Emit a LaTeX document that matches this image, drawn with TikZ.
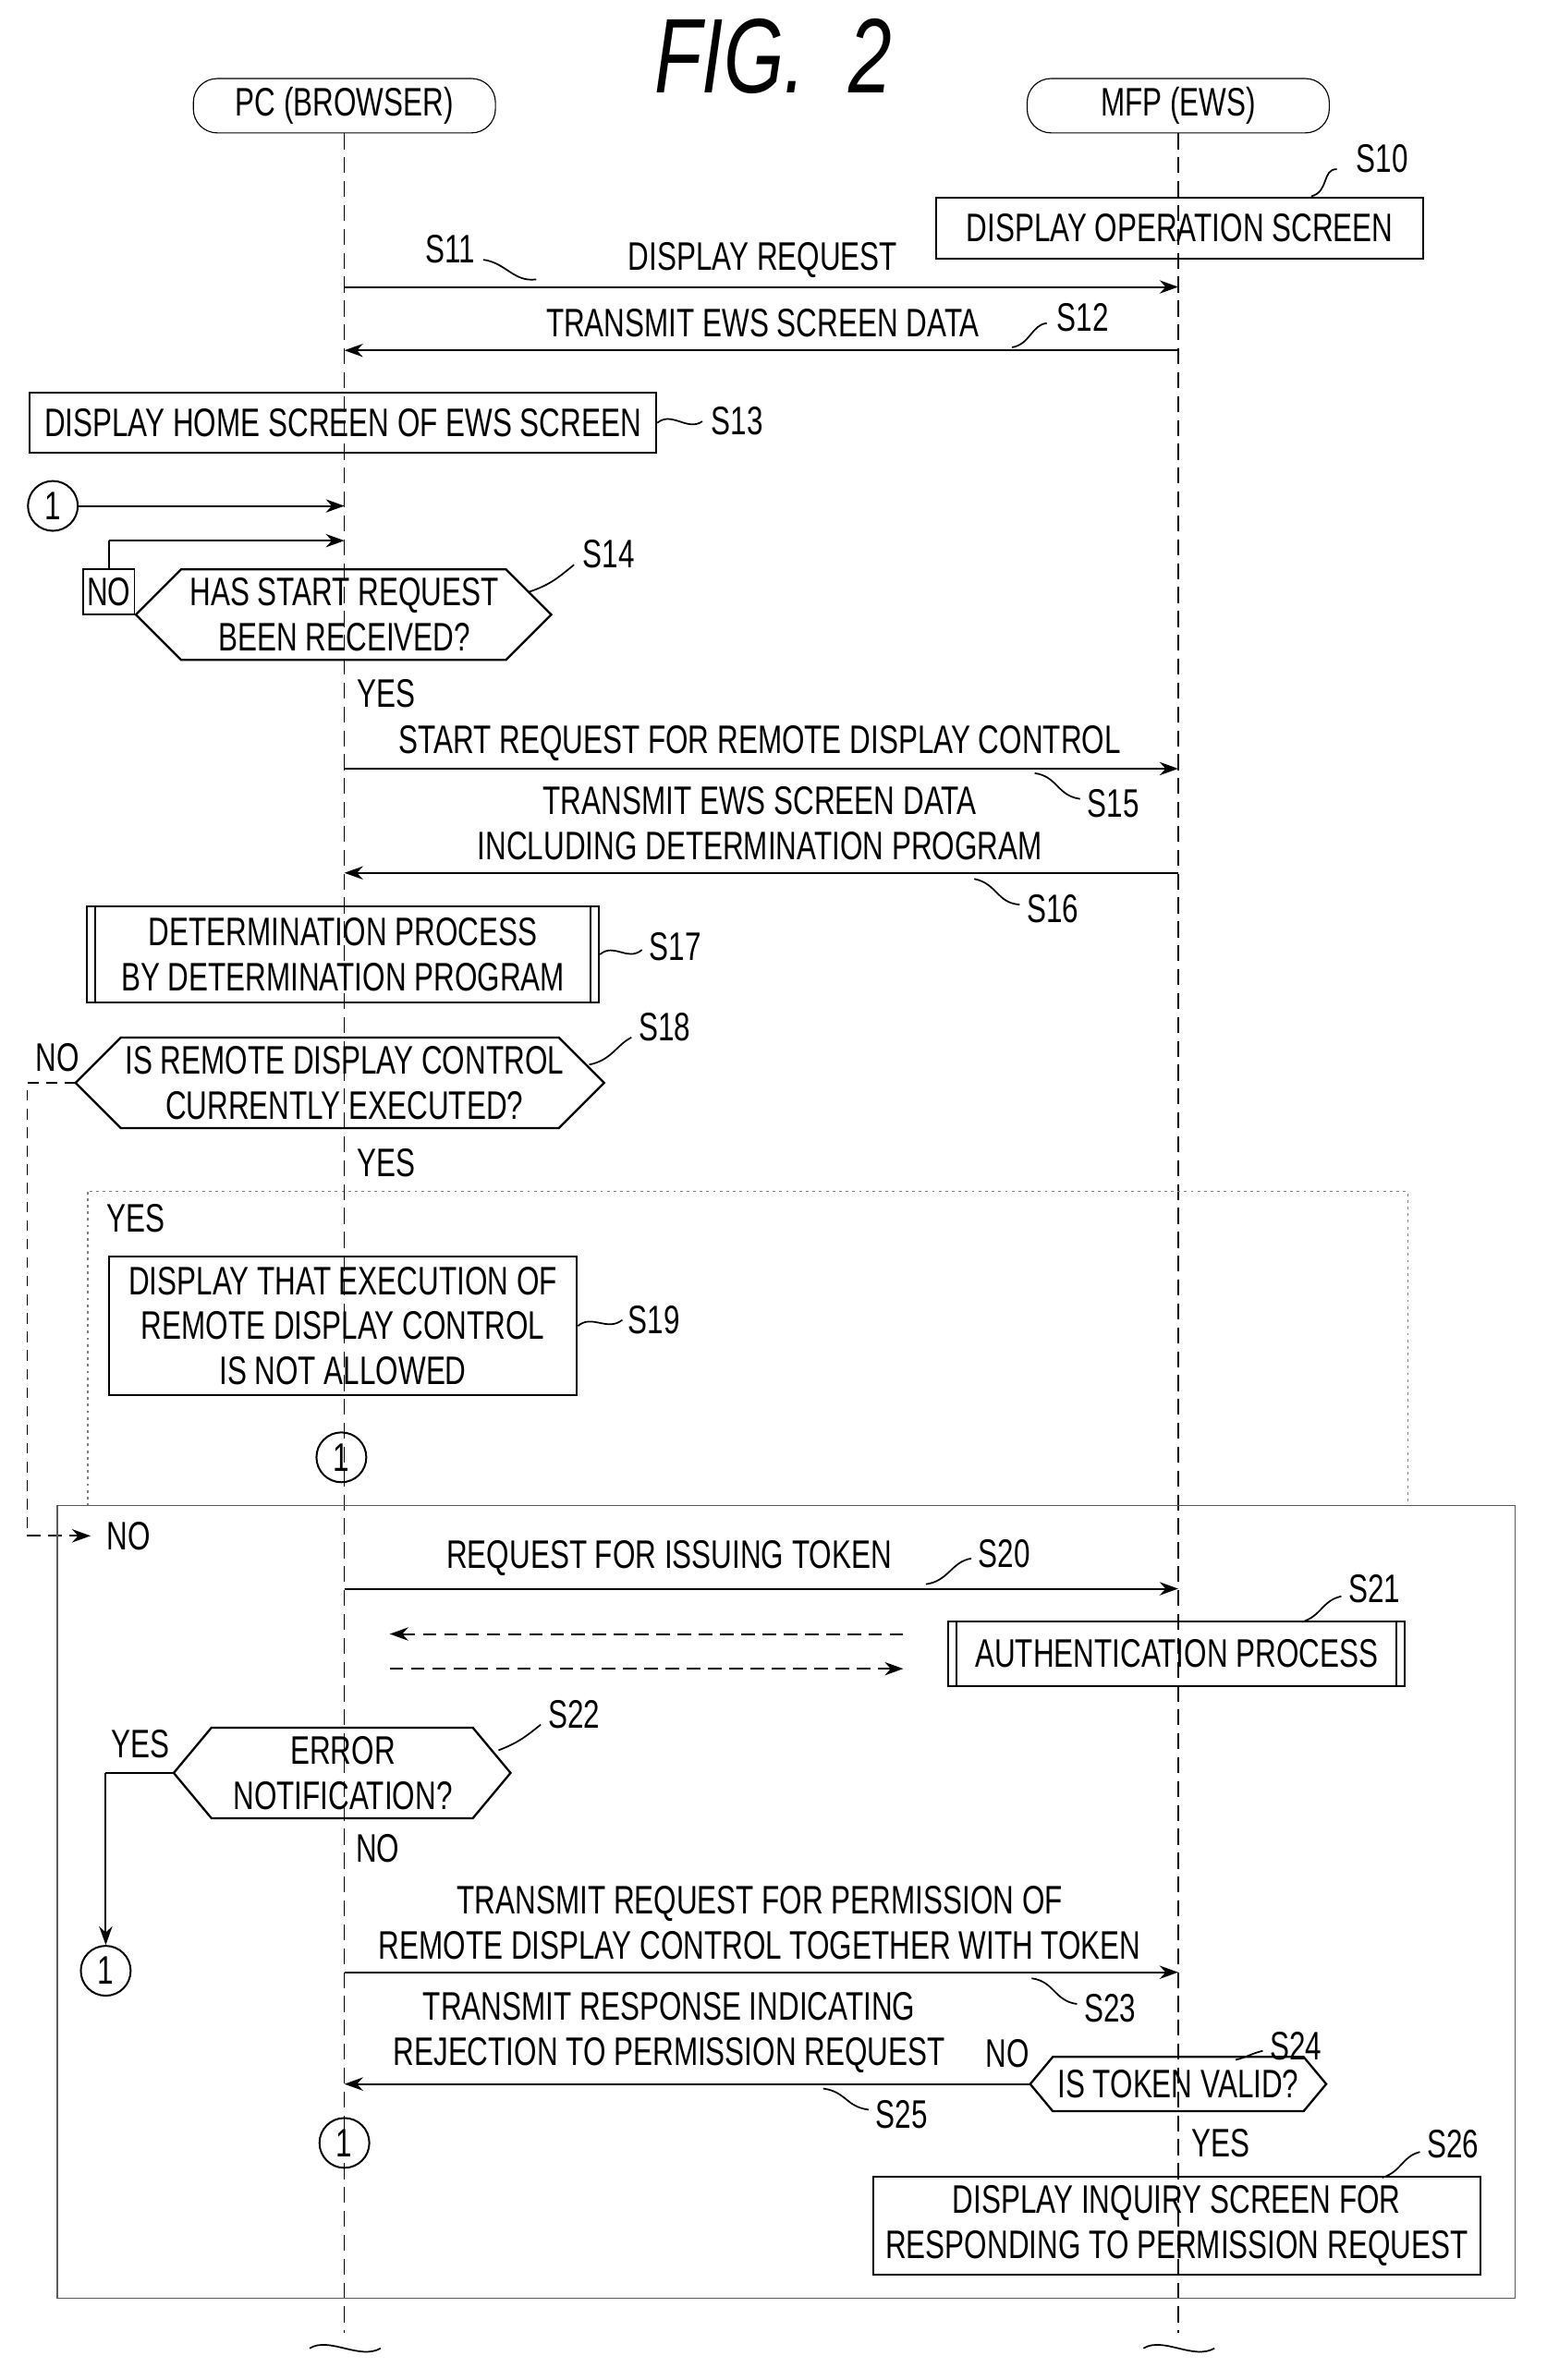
\documentclass[tikz,border=0pt]{standalone}
\usepackage{fontspec}
\setmainfont{Liberation Sans}[FakeStretch=0.73]
\usetikzlibrary{arrows.meta}
\begin{document}
\begin{tikzpicture}[x=0.02cm,y=-0.02cm,
  every node/.style={font=\fontsize{15}{17}\selectfont, inner sep=0pt, align=center},
  box/.style={draw, line width=0.7pt, minimum height=40*0.02cm},
  life/.style={draw, dash pattern=on 6pt off 3pt, line width=0.5pt},
  msg/.style={draw, line width=0.7pt, -{Stealth[length=7pt,width=5pt]}},
  dmsg/.style={draw, line width=0.7pt, dash pattern=on 5pt off 3pt, -{Stealth[length=7pt,width=5pt]}},
  lead/.style={draw, line width=0.6pt},
  con/.style={draw, circle, line width=0.7pt, minimum size=33*0.02cm},
  hx/.style={draw, line width=0.8pt}]
\useasboundingbox (0,0) rectangle (1024,1576);
% title
\node[font=\fontsize{40}{44}\selectfont\itshape] (title) at (512,37) {FIG.\ \ 2};
% headers
\node[draw, rounded corners=9pt, minimum width=200*0.02cm, minimum height=36*0.02cm] (pc) at (228,70) {PC (BROWSER)};
\node[draw, rounded corners=9pt, minimum width=200*0.02cm, minimum height=36*0.02cm] (mfp) at (780,70) {MFP (EWS)};
\coordinate (pcb) at (228,1545); \coordinate (mfpb) at (780,1545);
\path[life] (pc.south) -- (pcb);
\path[life] (mfp.south) -- (mfpb);
\draw[line width=0.6pt] (205,1555) .. controls (218,1547) and (238,1563) .. (252,1555);
\draw[line width=0.6pt] (757,1555) .. controls (770,1547) and (790,1563) .. (804,1555);
% S10
\node[box, minimum width=322*0.02cm] (s10) at (781,151) {DISPLAY OPERATION SCREEN};
\node (l10) at (915,105) {S10};
\path[lead] (885,112) .. controls (875,112) and (880,127) .. (868,130);
% S11 / S12
\coordinate (a11) at (228,190); \coordinate (b11) at (780,190);
\path[msg] (a11) -- (b11);
\node (t11) at (505,172) {DISPLAY REQUEST};
\node (l11) at (298,165) {S11};
\path[lead] (320,172) .. controls (335,174) and (340,187) .. (355,185);
\coordinate (a12) at (780,232); \coordinate (b12) at (228,232);
\path[msg] (a12) -- (b12);
\node (t12) at (505,214) {TRANSMIT EWS SCREEN DATA};
\node (l12) at (717,210) {S12};
\path[lead] (693,214) .. controls (683,215) and (682,228) .. (670,230);
% S13
\node[box, minimum width=415*0.02cm] (s13) at (227,280) {DISPLAY HOME SCREEN OF EWS SCREEN};
\node (l13) at (488,279) {S13};
\path[lead] (s13.east) .. controls (445,272) and (455,286) .. (465,279);
% connector 1 and loop
\node[con] (c1) at (35,335) {1};
\coordinate (c1e) at (228,335);
\path[msg] (c1) -- (c1e);
% S14
\draw[hx] (90,407) -- (120,377) -- (335,377) -- (365,407) -- (335,437) -- (120,437) -- cycle;
\node (s14) at (228,407) {HAS START REQUEST\\BEEN RECEIVED?};
\node[draw, line width=0.6pt, minimum width=34*0.02cm, minimum height=30*0.02cm] (no14) at (72,392) {NO};
\coordinate (lp) at (72,358); \coordinate (lpe) at (228,358);
\draw[line width=0.7pt] (no14.north) -- (lp);
\path[msg] (lp) -- (lpe);
\node (l14) at (403,367) {S14};
\path[lead] (380,374) .. controls (370,382) and (365,387) .. (350,392);
\node (y14) at (256,459) {YES};
% S15
\coordinate (a15) at (228,509); \coordinate (b15) at (780,509);
\path[msg] (a15) -- (b15);
\node (t15) at (503,492) {START REQUEST FOR REMOTE DISPLAY CONTROL};
\node (l15) at (737,532) {S15};
\path[lead] (715,529) .. controls (700,527) and (700,514) .. (685,512);
% S16
\coordinate (a16) at (780,578); \coordinate (b16) at (228,578);
\path[msg] (a16) -- (b16);
\node (t16) at (503,545) {TRANSMIT EWS SCREEN DATA\\INCLUDING DETERMINATION PROGRAM};
\node (l16) at (697,602) {S16};
\path[lead] (675,599) .. controls (660,598) and (660,585) .. (645,582);
% S17
\node[box, minimum width=339*0.02cm, minimum height=64*0.02cm] (s17) at (227,632) {DETERMINATION PROCESS\\BY DETERMINATION PROGRAM};
\draw[line width=0.7pt] ([xshift=6*0.02cm]s17.north west) -- ([xshift=6*0.02cm]s17.south west);
\draw[line width=0.7pt] ([xshift=-6*0.02cm]s17.north east) -- ([xshift=-6*0.02cm]s17.south east);
\node (l17) at (447,627) {S17};
\path[lead] (s17.east) .. controls (407,624) and (415,637) .. (425,629);
% S18
\draw[hx] (50,717) -- (80,687) -- (370,687) -- (400,717) -- (370,747) -- (80,747) -- cycle;
\node (s18) at (228,717) {IS REMOTE DISPLAY CONTROL\\CURRENTLY EXECUTED?};
\node (n18) at (38,700) {NO};
\node (l18) at (440,680) {S18};
\path[lead] (418,687) .. controls (408,692) and (405,702) .. (390,705);
\node (y18) at (256,770) {YES};
\coordinate (nl1) at (18,717); \coordinate (nl2) at (18,1017); \coordinate (nl3) at (60,1017);
\draw[line width=0.6pt, dash pattern=on 4pt off 3pt] (50,717) -- (nl1) -- (nl2);
\path[dmsg] (nl2) -- (nl3);
% YES frame
\draw[line width=0.5pt, gray, dash pattern=on 1pt off 1.5pt] (58,789) rectangle (932,997);
\node (yf) at (90,807) {YES};
\node[box, minimum width=310*0.02cm, minimum height=92*0.02cm] (s19) at (227,878) {DISPLAY THAT EXECUTION OF\\REMOTE DISPLAY CONTROL\\IS NOT ALLOWED};
\node (l19) at (433,874) {S19};
\path[lead] (s19.east) .. controls (392,870) and (402,882) .. (412,874);
\node[con] (c19) at (226,965) {1};
% NO frame
\draw[line width=0.5pt, gray!70!black] (38,997) rectangle (1003,1522);
\node (nf) at (85,1017) {NO};
% S20
\coordinate (a20) at (228,1052); \coordinate (b20) at (780,1052);
\path[msg] (a20) -- (b20);
\node (t20) at (443,1032) {REQUEST FOR ISSUING TOKEN};
\node (l20) at (665,1029) {S20};
\path[lead] (643,1032) .. controls (630,1034) and (628,1047) .. (613,1049);
% S21
\node[box, minimum width=302*0.02cm, minimum height=43*0.02cm] (s21) at (779,1095) {AUTHENTICATION PROCESS};
\draw[line width=0.7pt] ([xshift=6*0.02cm]s21.north west) -- ([xshift=6*0.02cm]s21.south west);
\draw[line width=0.7pt] ([xshift=-6*0.02cm]s21.north east) -- ([xshift=-6*0.02cm]s21.south east);
\node (l21) at (910,1052) {S21};
\path[lead] (888,1057) .. controls (875,1060) and (875,1070) .. (862,1074);
\coordinate (d1a) at (598,1082); \coordinate (d1b) at (258,1082);
\coordinate (d2a) at (258,1105); \coordinate (d2b) at (598,1105);
\path[dmsg] (d1a) -- (d1b);
\path[dmsg] (d2a) -- (d2b);
% S22
\draw[hx] (115,1174) -- (140,1144) -- (313,1144) -- (338,1174) -- (313,1204) -- (140,1204) -- cycle;
\node (s22) at (227,1174) {ERROR\\NOTIFICATION?};
\node (y22) at (93,1155) {YES};
\node (l22) at (380,1135) {S22};
\path[lead] (358,1142) .. controls (348,1150) and (343,1154) .. (330,1159);
\coordinate (e1) at (115,1174); \coordinate (e2) at (70,1174);
\node[con] (c22) at (70,1305) {1};
\draw[line width=0.7pt] (e1) -- (e2);
\path[msg] (e2) -- (c22);
\node (n22) at (250,1224) {NO};
% S23
\coordinate (a23) at (228,1306); \coordinate (b23) at (780,1306);
\path[msg] (a23) -- (b23);
\node (t23) at (503,1273) {TRANSMIT REQUEST FOR PERMISSION OF\\REMOTE DISPLAY CONTROL TOGETHER WITH TOKEN};
\node (l23) at (735,1330) {S23};
\path[lead] (713,1327) .. controls (698,1325) and (698,1312) .. (683,1310);
% S24
\draw[hx] (682,1380) -- (697,1362) -- (863,1362) -- (878,1380) -- (863,1398) -- (697,1398) -- cycle;
\node (s24) at (780,1380) {IS TOKEN VALID?};
\node (n24) at (667,1360) {NO};
\node (l24) at (858,1355) {S24};
\path[lead] (836,1358) .. controls (828,1360) and (826,1362) .. (818,1364);
% S25
\coordinate (a25) at (682,1380); \coordinate (b25) at (228,1380);
\path[msg] (a25) -- (b25);
\node (t25) at (443,1346) {TRANSMIT RESPONSE INDICATING\\REJECTION TO PERMISSION REQUEST};
\node (l25) at (597,1400) {S25};
\path[lead] (575,1397) .. controls (560,1395) and (560,1385) .. (545,1383);
\node[con] (c25) at (228,1419) {1};
\node (y24) at (808,1419) {YES};
% S26
\node[box, minimum width=402*0.02cm, minimum height=65*0.02cm] (s26) at (779,1474) {DISPLAY INQUIRY SCREEN FOR\\RESPONDING TO PERMISSION REQUEST};
\node (l26) at (962,1420) {S26};
\path[lead] (940,1425) .. controls (928,1428) and (928,1438) .. (915,1442);
\end{tikzpicture}
\end{document}
